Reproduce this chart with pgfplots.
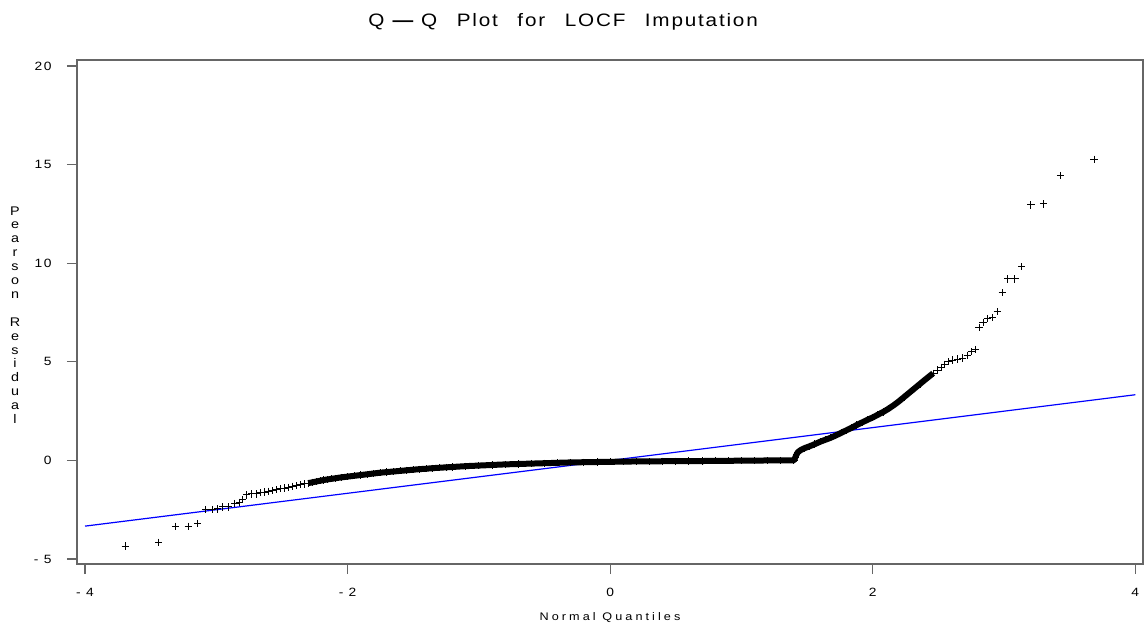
\documentclass[border=0pt]{standalone}
\usepackage{fontspec}
\setmainfont{Liberation Sans}
\newfontfamily\sasfont{Liberation Sans}[FakeStretch=1.15]
\usepackage{pgfplots}
\usepackage{pgfplotstable}
\pgfplotsset{compat=1.18}

\definecolor{axisgray}{HTML}{666666}
\definecolor{refblue}{HTML}{0000FF}

% sparse lower tail
\pgfplotstableread{
x y
-3.693 -4.34
-3.439 -4.15
-3.310 -3.33
-3.214 -3.33
-3.142 -3.19
-3.080 -2.48
-3.030 -2.48
-2.990 -2.46
-2.950 -2.36
-2.909 -2.36
-2.858 -2.18
-2.826 -2.12
-2.800 -2.00
-2.770 -1.75
-2.730 -1.70
-2.690 -1.70
}\lowtail

% dense body of the residuals
\pgfplotstableread{
x y
-2.66 -1.64
-2.63 -1.60
-2.60 -1.56
-2.57 -1.52
-2.54 -1.48
-2.51 -1.44
-2.48 -1.40
-2.45 -1.36
-2.42 -1.31
-2.39 -1.27
-2.36 -1.23
-2.33 -1.19
-2.30 -1.15
-2.27 -1.11
-2.24 -1.07
-2.21 -1.03
-2.18 -0.99
-2.15 -0.96
-2.12 -0.93
-2.09 -0.90
-2.05 -0.86
-2.00 -0.82
-1.95 -0.78
-1.90 -0.74
-1.85 -0.70
-1.80 -0.66
-1.75 -0.62
-1.70 -0.59
-1.65 -0.56
-1.60 -0.53
-1.55 -0.50
-1.50 -0.47
-1.45 -0.44
-1.40 -0.42
-1.35 -0.39
-1.30 -0.37
-1.25 -0.35
-1.20 -0.33
-1.10 -0.29
-1.00 -0.26
-0.90 -0.23
-0.80 -0.20
-0.70 -0.18
-0.60 -0.16
-0.50 -0.14
-0.40 -0.12
-0.30 -0.10
-0.20 -0.09
-0.10 -0.08
0.00 -0.07
0.10 -0.06
0.20 -0.05
0.30 -0.05
0.40 -0.04
0.50 -0.04
0.60 -0.03
0.70 -0.03
0.80 -0.02
0.90 -0.02
1.00 -0.01
1.10 -0.01
1.20 0.00
1.30 0.00
1.40 0.00
1.41 0.15
1.42 0.30
1.43 0.42
1.45 0.52
1.48 0.62
1.52 0.72
1.56 0.83
1.60 0.95
1.64 1.05
1.68 1.15
1.72 1.27
1.76 1.40
1.80 1.53
1.84 1.66
1.88 1.80
1.92 1.93
1.96 2.06
2.00 2.18
2.04 2.32
2.08 2.46
2.12 2.62
2.16 2.80
2.20 3.00
2.24 3.22
2.28 3.44
2.32 3.66
2.36 3.88
2.40 4.10
2.43 4.26
2.46 4.42
2.49 4.58
2.52 4.72
2.55 4.88
2.58 5.00
2.61 5.09
2.646 5.14
2.685 5.19
2.72 5.34
2.755 5.51
2.78 5.63
}\body

% sparse upper tail
\pgfplotstableread{
x y
2.810 6.75
2.840 6.99
2.874 7.20
2.910 7.24
2.948 7.53
2.986 8.50
3.030 9.20
3.083 9.20
3.136 9.82
3.205 12.95
3.300 13.00
3.430 14.44
3.686 15.27
}\uptail

\begin{document}
\begin{tikzpicture}
\useasboundingbox (-77pt,-63pt) rectangle (1068pt,564pt);
\begin{axis}[
    at={(0pt,0pt)}, anchor=south west,
    scale only axis,
    width=1066pt,
    height=504pt,
    xmin=-4.061, xmax=4.059,
    ymin=-5.25, ymax=20.30,
    clip mode=individual,
    xtick={-4,-2,0,2,4},
    xticklabels={- 4,- 2,0,2,4},
    ytick={-5,0,5,10,15,20},
    yticklabels={- 5,0,5,10,15,20},
    xtick pos=left, ytick pos=left,
    tick align=outside,
    major tick length=10pt,
    axis line style={draw=axisgray, line width=1.5pt},
    tick style={draw=axisgray, line width=1.3pt},
    ticklabel style={font=\sasfont\addfontfeatures{LetterSpace=12}\fontsize{12}{14}\selectfont},
    yticklabel style={anchor=east, xshift=-12pt},
    xticklabel style={yshift=-11pt},
    title={Q\hspace{8pt}{\bfseries —}\hspace{8pt}Q\hspace{12pt} Plot\hspace{12pt} for\hspace{12pt} LOCF\hspace{12pt} Imputation},
    every axis title shift=0pt,
    title style={at={(axis description cs:0.456,1)}, anchor=center, yshift=38pt,
        font=\sasfont\addfontfeatures{LetterSpace=10}\fontsize{18}{21}\selectfont},
    xlabel={Normal Quantiles},
    xlabel style={at={(axis description cs:0.5,0)}, anchor=center, yshift=-54pt,
        font=\sasfont\addfontfeatures{LetterSpace=28}\fontsize{11}{13}\selectfont},
]
\addplot[refblue, line width=1.2pt] coordinates {(-4,-3.33) (4,3.33)};
\addplot[black, line width=6pt, line join=round, mark=none,
    restrict x to domain=-2.3:2.46] table[x=x, y=y] {\body};
\addplot[only marks, mark=+, mark size=3.6pt, mark options={black, line width=1pt}]
    table[x=x, y=y] {\body};
\addplot[only marks, mark=+, mark size=3.6pt, mark options={black, line width=1pt}]
    table[x=x, y=y] {\lowtail};
\addplot[only marks, mark=+, mark size=3.6pt, mark options={black, line width=1pt}]
    table[x=x, y=y] {\uptail};
\node[font=\sasfont\fontsize{12.5}{13.9}\selectfont, align=center, xshift=-62pt]
    at (axis description cs:0,0.494)
    {P\\e\\a\\r\\s\\o\\n\\~\\R\\e\\s\\i\\d\\u\\a\\l};
\end{axis}
\end{tikzpicture}
\end{document}
